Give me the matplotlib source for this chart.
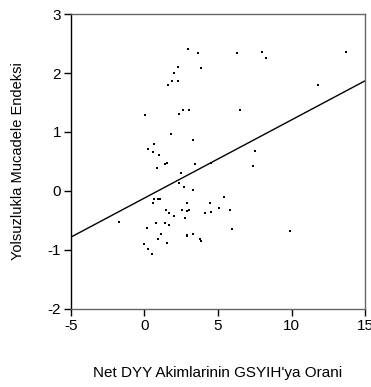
import numpy as np
from matplotlib import pyplot as plt

plt.rcParams['font.family'] = ['Liberation Sans', 'DejaVu Sans']
plt.rcParams['axes.unicode_minus'] = False

# net FDI inflows / GDP (x) vs. anti-corruption index (y)
fdi = [2.97, 3.63, 2.31, 3.85, 2.04, 1.90, 2.29, 1.63, 0.07, 2.63,
       3.04, 2.34, 1.83, 3.33, 0.64, 0.27, 0.61, 0.98, 6.30, 7.98,
       8.27, 13.70, 11.80, 6.48, 7.54, 0.88, 1.52, 1.43, 3.44, 4.55,
       2.51, 2.36, 2.72, 3.29, 0.64, 0.93, 1.09, 0.57, 2.88, 1.49,
       1.66, 2.02, 2.58, 2.92, 3.06, 2.76, 4.44, 4.10, 4.55, 5.10,
       -1.72, 0.18, 0.79, 1.41, 1.68, 1.13, 0.93, 2.88, 2.90, 3.31,
       3.80, 3.87, 0.00, 1.56, 0.25, 0.54, 7.38, 5.43, 5.84, 5.98,
       9.92]
corr = [2.41, 2.34, 2.10, 2.08, 2.00, 1.86, 1.87, 1.79, 1.28, 1.38,
        1.38, 1.30, 0.96, 0.86, 0.79, 0.71, 0.66, 0.61, 2.34, 2.35,
        2.26, 2.36, 1.79, 1.38, 0.68, 0.39, 0.48, 0.45, 0.45, 0.47,
        0.30, 0.13, 0.07, 0.01, -0.14, -0.14, -0.14, -0.21, -0.21, -0.32,
        -0.38, -0.42, -0.32, -0.34, -0.32, -0.45, -0.21, -0.37, -0.35, -0.29,
        -0.53, -0.63, -0.55, -0.55, -0.57, -0.73, -0.82, -0.75, -0.77, -0.73,
        -0.81, -0.84, -0.90, -0.89, -0.99, -1.06, 0.43, -0.11, -0.32, -0.65,
        -0.67]

# fitted line
intercept = -0.12
slope = 0.1325

fig = plt.figure(figsize=(3.71, 3.87), dpi=100)
ax = fig.add_axes([0.191, 0.2016, 0.793, 0.7622])

ax.plot(fdi, corr, 's', color='black', markersize=1.9, markeredgewidth=0)
xl = np.array([-5, 15])
ax.plot(xl, intercept + slope * xl, color='black', linewidth=1.0)

ax.set_xlim(-5, 15)
ax.set_ylim(-2, 3)
ax.set_xticks([-5, 0, 5, 10, 15])
ax.set_yticks([-2, -1, 0, 1, 2, 3])
ax.tick_params(direction='out', length=5, width=1, labelsize=11)
ax.tick_params(axis='x', pad=2)
ax.tick_params(axis='y', pad=2)

ax.spines['left'].set_color('black')
for s in ['top', 'right', 'bottom']:
    ax.spines[s].set_color('#666666')
for s in ax.spines.values():
    s.set_linewidth(1)

ax.set_xlabel("Net DYY Akimlarinin GSYIH'ya Orani", fontsize=11, labelpad=24)
ax.set_ylabel('Yolsuzlukla Mucadele Endeksi', fontsize=10.5, labelpad=16)

plt.savefig('out.png', dpi=100)
